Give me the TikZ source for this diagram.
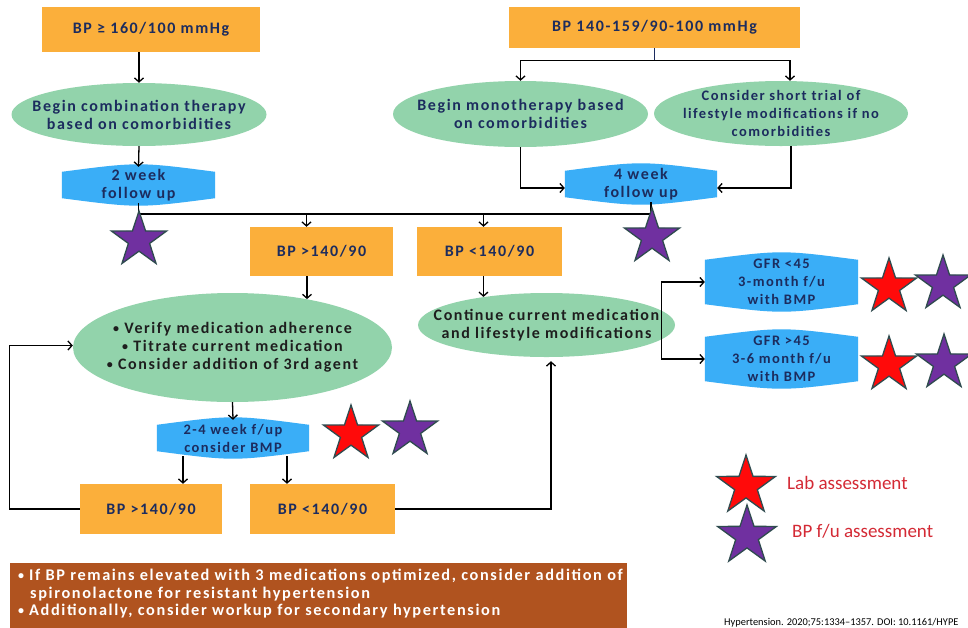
\documentclass[tikz,border=0pt]{standalone}
\usepackage{fontspec}
\setmainfont{Carlito}
\newfontfamily\spf{Carlito}[LetterSpace=10]
\usetikzlibrary{shapes.geometric,arrows.meta,calc}
\definecolor{orng}{HTML}{FBAF3B}
\definecolor{grn}{HTML}{92D3AB}
\definecolor{blu}{HTML}{3AAEF7}
\definecolor{navy}{HTML}{1C2C5E}
\definecolor{dk}{HTML}{1E1E1E}
\definecolor{brn}{HTML}{B0531F}
\definecolor{purp}{HTML}{7030A0}
\definecolor{redst}{HTML}{FF0A0A}
\definecolor{starln}{HTML}{2F4B4F}
\definecolor{legred}{HTML}{D42A35}
\pgfdeclarelayer{background}
\pgfsetlayers{background,main}
\newcommand\bul{\raisebox{0.8pt}{\fontsize{12}{12}\selectfont •}}
\newcommand\lensfill[2][5]{%
  \begin{pgfonlayer}{background}
  \fill[blu] ([yshift=-#1pt]#2.north west) .. controls ([yshift=#1pt]#2.north) .. ([yshift=-#1pt]#2.north east)
    -- ([yshift=#1pt]#2.south east) .. controls ([yshift=-#1pt]#2.south) .. ([yshift=#1pt]#2.south west) -- cycle;
  \end{pgfonlayer}}
\begin{document}
\begin{tikzpicture}[x=1pt,y=-1pt,
 every node/.style={font=\spf\bfseries\fontsize{16}{18}\selectfont, text=navy, align=center, inner sep=0pt},
 obox/.style={fill=orng, rectangle},
 ell/.style={ellipse, fill=grn, inner xsep=-45pt, inner ysep=-18pt},
 fub/.style={rectangle},
 small/.style={font=\spf\bfseries\fontsize{14.5}{18}\selectfont},
 arr/.style={draw=black, line width=1.3pt, -{Straight Barb[length=4pt,width=9pt]}},
 ln/.style={draw=black, line width=1.3pt},
 pstar/.style={star, star points=5, star point ratio=2.6, fill=purp, draw=starln, line width=1.3pt, minimum size=58pt, inner sep=0pt},
 rstar/.style={pstar, fill=redst},
]
\begin{pgfonlayer}{background}
\fill[white] (0,0) rectangle (968,627);
\end{pgfonlayer}
\useasboundingbox (0,0) rectangle (968,627);
\clip (0,0) rectangle (968,627);

% top left
\node[obox, minimum width=218pt, minimum height=45pt] (bp1) at (151,29.5) {BP ≥ 160/100 mmHg};
\node[ell, minimum width=255pt, minimum height=63pt] (comb) at (139,114.5) {Begin combination therapy\\based on comorbidities};
\node[fub, minimum width=153pt, minimum height=36pt] (fu2) at (138.5,185) {2 week\\follow up};
\lensfill{fu2}

% top right
\node[obox, minimum width=291pt, minimum height=41pt] (bp2) at (654.5,27.5) {BP 140-159/90-100 mmHg};
\node[ell, minimum width=255pt, minimum height=66pt] (mono) at (520.5,114) {Begin monotherapy based\\on comorbidities};
\node[ell, small, minimum width=254pt, minimum height=65pt] (cst) at (781,113.5) {Consider short trial of\\lifestyle modifications if no\\comorbidities};
\node[fub, minimum width=152pt, minimum height=36pt] (fu4) at (641,184) {4 week\\follow up};
\lensfill{fu4}

% middle
\node[obox, minimum width=143pt, minimum height=49pt] (bph) at (321.5,251.5) {BP >140/90};
\node[obox, minimum width=145pt, minimum height=49pt] (bpl) at (489.5,251.5) {BP <140/90};
\node[ell, text=dk, minimum width=319pt, minimum height=109pt] (verify) at (232.5,347.5)
  {\bul{} Verify medication adherence\\\bul{} Titrate current medication\\\bul{} Consider addition of 3rd agent};
\node[ell, text=dk, minimum width=257pt, minimum height=64pt] (cont) at (546.5,325) {Continue current medication\\and lifestyle modifications};
\node[fub, small, minimum width=153pt, minimum height=54pt] (gfr1) at (781.5,282) {GFR <45\\3-month f/u\\with BMP};
\lensfill{gfr1}
\node[fub, small, minimum width=153pt, minimum height=54pt] (gfr2) at (781.5,359) {GFR >45\\3-6 month f/u\\with BMP};
\lensfill{gfr2}
\node[fub, small, minimum width=152pt, minimum height=36pt] (fu24) at (233,438) {2-4 week f/up\\consider BMP};
\lensfill{fu24}
\node[obox, minimum width=142pt, minimum height=50pt] (bph2) at (151,509) {BP >140/90};
\node[obox, minimum width=145pt, minimum height=50pt] (bpl2) at (322.5,509) {BP <140/90};

% bottom note
\node[rectangle, fill=brn, minimum width=617pt, minimum height=68pt, anchor=north west] (note) at (10,563) {};
\node[text=white, align=none, anchor=west, font=\spf\bfseries\fontsize{16.3}{17.5}\selectfont] (notetext) at (18,594.5)
  {\begin{tabular}{@{}l@{\hspace{5pt}}l@{}}
   \bul & If BP remains elevated with 3 medications optimized, consider addition of\\
        & \hspace*{1pt}spironolactone for resistant hypertension\\
   \bul & Additionally, consider workup for secondary hypertension
   \end{tabular}};

% connectors
\draw[arr] (bp1.south -| comb.north) -- (comb.north);
\draw[arr] (comb.south) -- (fu2.north);
\draw[ln, draw=navy] (bp2.south) -- ++(0,12) coordinate (j1);
\draw[arr] (j1) -| (mono.north);
\coordinate (cstn) at ([xshift=9pt]cst.north);
\draw[arr] (j1) -| (cstn);
\draw[arr] (mono.south) |- ([yshift=-4pt]fu4.west);
\coordinate (csts) at ([xshift=10pt]cst.south);
\draw[arr] (csts) |- ([yshift=-4pt]fu4.east);
\coordinate (hy) at (0,214);
\coordinate (fu4s) at ([xshift=10pt]fu4.south);
\draw[ln] (fu2.south) -- (fu2.south |- hy) -- (fu4s |- hy) -- (fu4s);
\coordinate (a1) at ([xshift=-15pt]bph.north);
\coordinate (a2) at ([xshift=-6pt]bpl.north);
\draw[arr] (a1 |- hy) -- (a1);
\draw[arr] (a2 |- hy) -- (a2);
\draw[arr] (bph.south -| verify.33) -- (verify.33);
\draw[arr] (bpl.south -| cont.156) -- (cont.156);
\coordinate (gv) at ([xshift=-14pt]cont.east);
\draw[arr] (gv) |- (gfr1.west);
\draw[arr] (gv) |- (gfr2.west);
\draw[arr] (verify.south) -- (fu24.north);
\coordinate (d1) at ([xshift=-50pt]fu24.south);
\coordinate (d2) at ([xshift=54pt]fu24.south);
\draw[arr] (d1) -- (d1 |- bph2.north);
\draw[arr] (d2) -- (d2 |- bpl2.north);
\draw[arr] (bph2.west) -- ++(-70,0) |- ([yshift=2pt]verify.west);
\coordinate (cs) at ([xshift=4.5pt]cont.south);
\draw[arr] (bpl2.east) -| ([yshift=-4pt]cs);

% stars
\node[pstar] (s1) at (139,240) {};
\node[pstar] (s2) at (652,237) {};
\node[rstar] (s3) at (889,287) {};
\node[pstar] (s4) at (943,284) {};
\node[rstar] (s5) at (889,365) {};
\node[pstar] (s6) at (944,363) {};
\node[rstar] (s7) at (351,434) {};
\node[pstar] (s8) at (410,430) {};

% legend
\node[rstar, minimum size=62pt] (l1) at (746,486) {};
\node[pstar, minimum size=62pt] (l2) at (747,536) {};
\node[anchor=west, text=legred, font=\fontsize{19}{22}\selectfont] (lt1) at (787,483) {Lab assessment};
\node[anchor=west, text=legred, font=\fontsize{19}{22}\selectfont] (lt2) at (792,531) {BP f/u assessment};
\node[anchor=base west, text=black, font=\fontsize{10.4}{12}\selectfont] (cite) at (724,625) {Hypertension. 2020;75:1334–1357. DOI: 10.1161/HYPE};
\end{tikzpicture}
\end{document}
